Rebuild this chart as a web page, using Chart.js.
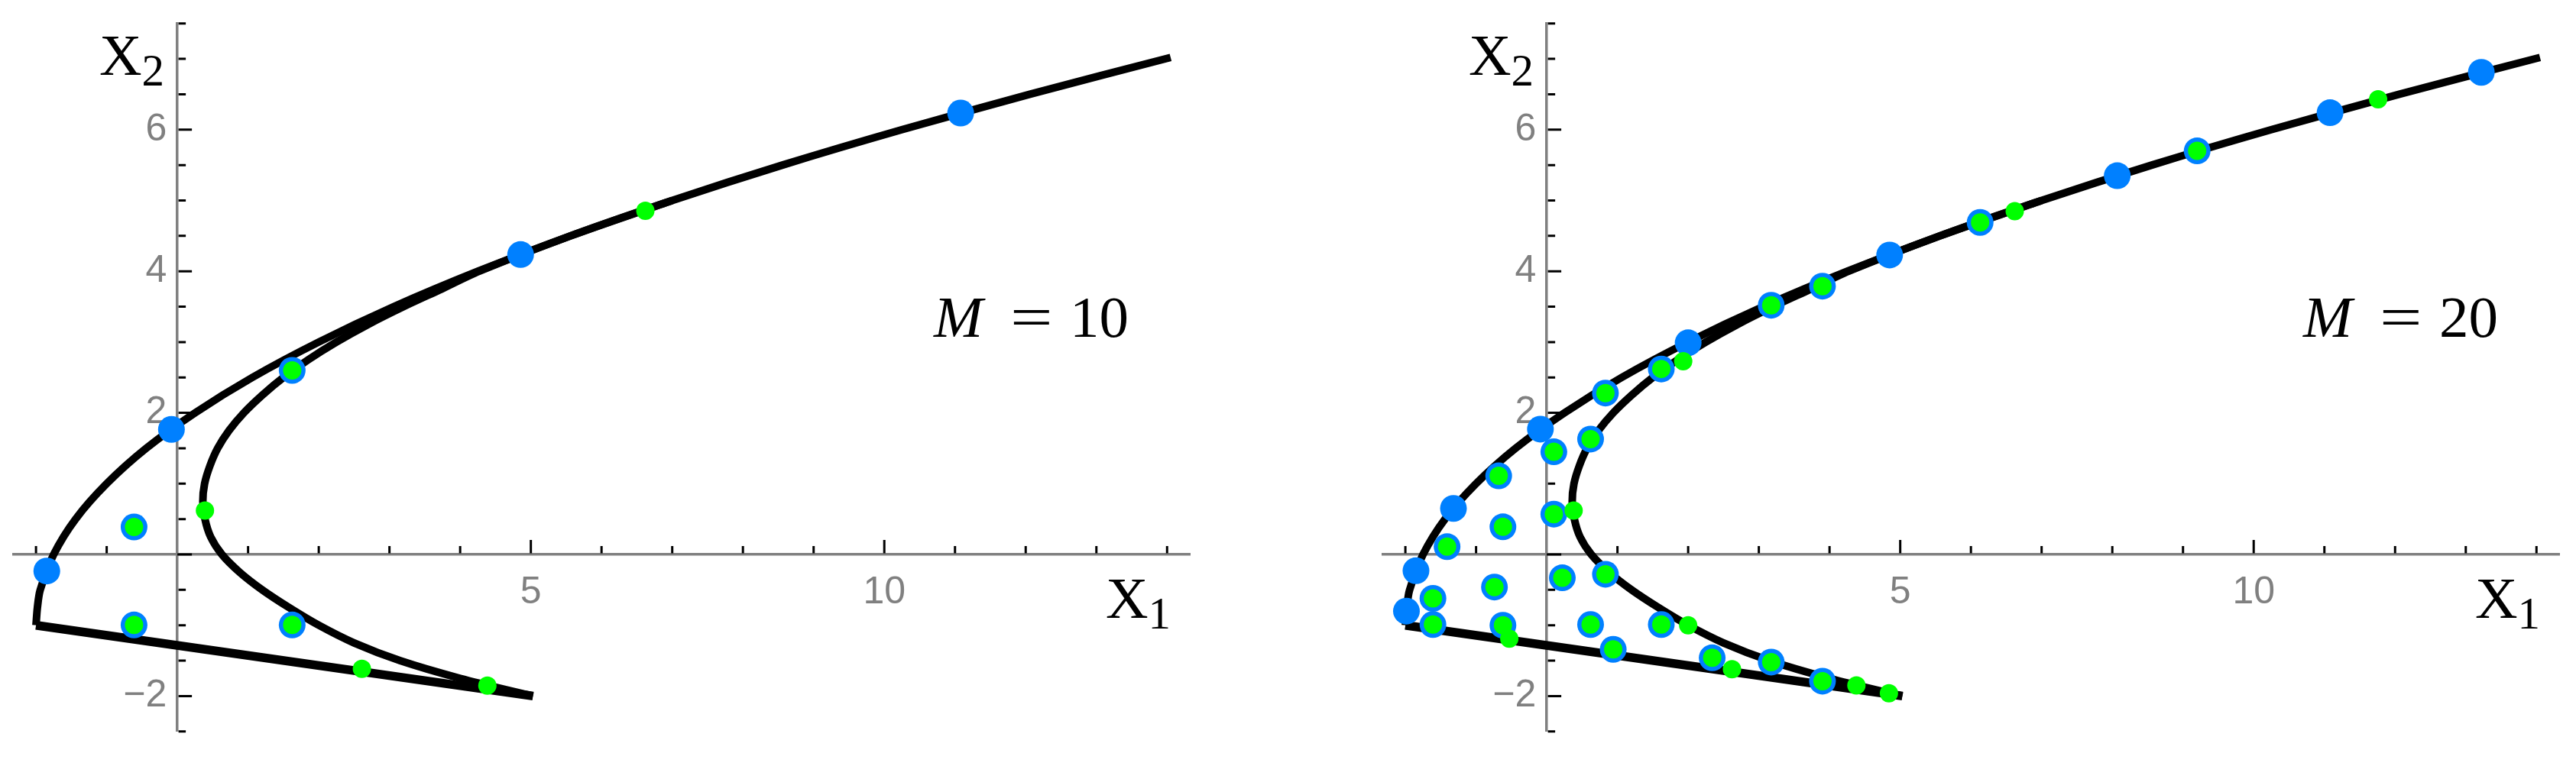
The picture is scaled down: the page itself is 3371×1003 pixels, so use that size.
<!DOCTYPE html>
<html>
<head>
<meta charset="utf-8">
<script src="https://cdn.jsdelivr.net/npm/chart.js@4.4.1/dist/chart.umd.min.js"></script>
<style>
    body { margin: 0; background: #fff; }
    #wrap { position: relative; width: 3371px; height: 1003px; overflow: hidden; background: #fff; }
    .panel { position: absolute; top: 0; width: 1579px; height: 1003px; }
    .lbl { position: absolute; font-family: "Liberation Serif", "Times New Roman", serif; font-size: 77px; line-height: 77px; color: #000; white-space: nowrap; }
    .lbl .sub { font-size: 59px; vertical-align: -14px; }
    .lbl i { font-style: italic; }
    .eq { display: inline-block; transform: scaleX(1.28); transform-origin: left center; }
</style>
</head>
<body>
<div id="wrap">
    <div class="panel" style="left:0px"><canvas id="chart-m10" width="1579" height="1003"></canvas></div>
    <div class="panel" style="left:1792px"><canvas id="chart-m20" width="1579" height="1003"></canvas></div>

    <div class="lbl" style="left:130px;top:34px">X<span class="sub">2</span></div>
    <div class="lbl" style="left:1447px;top:745px">X<span class="sub">1</span></div>
    <div class="lbl" style="left:1222px;top:377px"><i>M</i></div>
    <div class="lbl" style="left:1322px;top:377px"><span class="eq">=</span></div>
    <div class="lbl" style="left:1400px;top:377px">10</div>

    <div class="lbl" style="left:1922px;top:34px">X<span class="sub">2</span></div>
    <div class="lbl" style="left:3239px;top:745px">X<span class="sub">1</span></div>
    <div class="lbl" style="left:3014px;top:377px"><i>M</i></div>
    <div class="lbl" style="left:3114px;top:377px"><span class="eq">=</span></div>
    <div class="lbl" style="left:3192px;top:377px">20</div>
</div>

<script>
// boundary curves (same in both panels)
const outerX = [14.05, 12.06, 10.25, 8.56, 7.0, 5.56, 4.25, 3.06, 2.0, 1.06, 0.25, -0.44, -1.0, -1.44, -1.75, -1.94, -1.98, -2.0];
const outerY = [7.02, 6.5, 6.0, 5.5, 5.0, 4.5, 4.0, 3.5, 3.0, 2.5, 2.0, 1.5, 1.0, 0.5, 0.0, -0.5, -0.75, -1.0];
const edgeX = [-2.0, 5.03];
const edgeY = [-1.0, -2.0];
const innerX = [7.0, 5.56, 4.27, 3.74, 3.2, 2.7, 2.25, 1.85, 1.5, 1.2, 0.94, 0.73, 0.57, 0.46, 0.385, 0.36,
    0.39, 0.47, 0.63, 0.88, 1.2, 1.58, 2.0, 2.5, 3.15, 4.0, 5.03];
const innerY = [5.0, 4.5, 4.0, 3.75, 3.5, 3.25, 3.0, 2.75, 2.5, 2.25, 2.0, 1.75, 1.5, 1.25, 1.0, 0.75,
    0.5, 0.25, 0.0, -0.25, -0.5, -0.75, -1.0, -1.25, -1.5, -1.75, -2.0];

// M = 10 points
const blue10X = [11.08, 4.855, -0.084, -1.847, 1.624, -0.613, -0.613, 1.624];
const blue10Y = [6.235, 4.236, 1.766, -0.234, 2.60, 0.388, -0.996, -0.996];
const green10X = [1.624, -0.613, -0.613, 1.624, 6.62, 0.39, 2.61, 4.385];
const green10Y = [2.60, 0.388, -0.996, -0.996, 4.854, 0.62, -1.615, -1.852];

// M = 20 points
const blue20X = [13.22, 11.08, 8.07, 4.85, 2.0, -0.09, -1.32, -1.85, -1.985,
    9.2, 6.13, 3.9, 3.175, 1.62, 0.83, 0.62, 0.1, -0.68, 0.1, -0.62, -1.41,
    0.22, 0.83, -0.74, -1.61, -1.61, -0.62, 0.62, 1.62, 0.94, 2.34, 3.175, 3.9];
const blue20Y = [6.81, 6.24, 5.35, 4.23, 2.99, 1.77, 0.65, -0.23, -0.8,
    5.7, 4.69, 3.79, 3.52, 2.62, 2.28, 1.63, 1.45, 1.11, 0.57, 0.39, 0.11,
    -0.33, -0.28, -0.46, -0.62, -0.99, -1.0, -0.99, -0.99, -1.34, -1.46, -1.52, -1.79];
const green20X = [9.2, 6.13, 3.9, 3.175, 1.62, 0.83, 0.62, 0.1, -0.68, 0.1, -0.62, -1.41,
    0.22, 0.83, -0.74, -1.61, -1.61, -0.62, 0.62, 1.62, 0.94, 2.34, 3.175, 3.9,
    11.76, 6.62, 1.93, 0.38, -0.53, 2.0, 2.62, 4.38, 4.84];
const green20Y = [5.7, 4.69, 3.79, 3.52, 2.62, 2.28, 1.63, 1.45, 1.11, 0.57, 0.39, 0.11,
    -0.33, -0.28, -0.46, -0.62, -0.99, -1.0, -0.99, -0.99, -1.34, -1.46, -1.52, -1.79,
    6.43, 4.85, 2.73, 0.62, -1.19, -1.0, -1.62, -1.85, -1.96];

// axes
const xLabelTicks = [5, 10];
const yLabelTicks = [-2, 2, 4, 6];
const xMarkTicks = [-2, -1, 1, 2, 3, 4, 5, 6, 7, 8, 9, 10, 11, 12, 13, 14];
const xMajorTicks = [5, 10];
const yMarkTicks = [-2.5, -2, -1.5, -1, -0.5, 0, 0.5, 1, 1.5, 2, 2.5, 3, 3.5, 4, 4.5, 5, 5.5, 6, 6.5, 7, 7.5];
const yMajorTicks = [-2, 0, 2, 4, 6];

const BLUE = '#0080ff';
const GREEN = '#00ff00';
const AXIS_GREY = '#808080';

function toPoints(xs, ys) {
    return xs.map((x, i) => ({ x: x, y: ys[i] }));
}

function fmtTick(v) {
    return v < 0 ? '\u2212' + Math.abs(v) : String(v);
}

// short tick marks drawn on the inside of the crossing axes
const tickMarks = {
    id: 'tickMarks',
    beforeDatasetsDraw(chart) {
        const { ctx, scales: { x, y } } = chart;
        const x0 = x.getPixelForValue(0);
        const y0 = y.getPixelForValue(0);
        ctx.save();
        ctx.strokeStyle = '#000';
        ctx.lineWidth = 3;
        ctx.beginPath();
        xMarkTicks.forEach(v => {
            const px = x.getPixelForValue(v);
            const len = xMajorTicks.includes(v) ? 19 : 11;
            ctx.moveTo(px, y0 - 1.5);
            ctx.lineTo(px, y0 - len);
        });
        yMarkTicks.forEach(v => {
            const py = y.getPixelForValue(v);
            const len = yMajorTicks.includes(v) ? 19 : 11;
            ctx.moveTo(v === 0 ? x0 : x0 + 1.5, py);
            ctx.lineTo(x0 + len, py);
        });
        ctx.stroke();
        ctx.restore();
    }
};

function lineSet(xs, ys, width, tension, order) {
    return {
        data: toPoints(xs, ys),
        showLine: true,
        borderColor: '#000',
        borderWidth: width,
        pointRadius: 0,
        tension: tension,
        clip: false,
        order: order
    };
}

function makePanel(canvasId, blueX, blueY, greenX, greenY) {
    const ctx = document.getElementById(canvasId).getContext('2d');
    return new Chart(ctx, {
        type: 'scatter',
        data: {
            datasets: [
                {
                    data: toPoints(greenX, greenY),
                    pointRadius: 12,
                    pointBackgroundColor: GREEN,
                    pointBorderWidth: 0,
                    clip: false,
                    order: 0
                },
                {
                    data: toPoints(blueX, blueY),
                    pointRadius: 17.5,
                    pointBackgroundColor: BLUE,
                    pointBorderWidth: 0,
                    clip: false,
                    order: 1
                },
                lineSet(innerX, innerY, 10, 0.3, 2),
                lineSet(outerX, outerY, 10, 0.3, 3),
                lineSet(edgeX, edgeY, 11.5, 0, 4)
            ]
        },
        options: {
            responsive: false,
            animation: false,
            events: [],
            layout: { padding: { left: 14.3, right: 21.2, top: 30.75, bottom: 45.25 } },
            plugins: {
                legend: { display: false },
                tooltip: { enabled: false }
            },
            scales: {
                x: {
                    type: 'linear',
                    min: -2.32,
                    max: 14.33,
                    position: { y: 0 },
                    grid: { display: false, drawTicks: false },
                    border: { display: true, color: AXIS_GREY, width: 3.5 },
                    afterBuildTicks: s => { s.ticks = xLabelTicks.map(v => ({ value: v })); },
                    ticks: {
                        color: AXIS_GREY,
                        font: { family: '"Liberation Sans", Arial, sans-serif', size: 50, lineHeight: 1 },
                        padding: 25,
                        maxRotation: 0,
                        autoSkip: false,
                        callback: v => fmtTick(v)
                    }
                },
                y: {
                    type: 'linear',
                    min: -2.5,
                    max: 7.5,
                    position: { x: 0 },
                    grid: { display: false, drawTicks: false },
                    border: { display: true, color: AXIS_GREY, width: 3.5 },
                    afterBuildTicks: s => { s.ticks = yLabelTicks.map(v => ({ value: v })); },
                    ticks: {
                        color: AXIS_GREY,
                        font: { family: '"Liberation Sans", Arial, sans-serif', size: 50, lineHeight: 1 },
                        padding: 0,
                        autoSkip: false,
                        callback: v => fmtTick(v) + ' '
                    }
                }
            }
        },
        plugins: [tickMarks]
    });
}

makePanel('chart-m10', blue10X, blue10Y, green10X, green10Y);
makePanel('chart-m20', blue20X, blue20Y, green20X, green20Y);
</script>
</body>
</html>
